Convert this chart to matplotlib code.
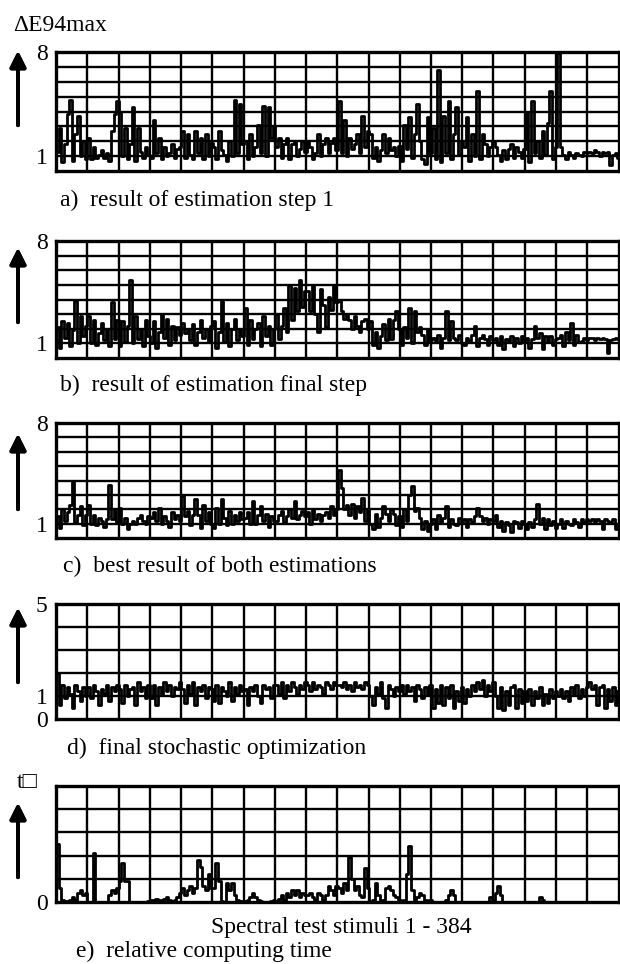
import numpy as np
import matplotlib.pyplot as plt

plt.rcParams['font.family'] = ['Liberation Serif', 'DejaVu Serif']

FIG_W, FIG_H = 620, 964
N_STIMULI = 384
N_CELLS = 18

# values, 12 samples per grid cell (18 cells)
est_step1 = [
    1.3, 2.9, 0.6, 1.8, 3.8, 4.8, 0.7, 2.5, 3.7, 1.0, 2.0, 0.8,
    2.2, 0.8, 1.6, 0.9, 1.1, 1.4, 0.9, 1.2, 0.7, 2.7, 3.8, 4.7,
    4.0, 1.0, 2.9, 0.8, 1.8, 4.3, 0.7, 2.9, 1.3, 0.9, 1.6, 1.1,
    0.9, 3.4, 1.2, 2.2, 0.8, 1.6, 1.0, 1.2, 1.8, 0.9, 1.5, 1.6,
    2.7, 0.9, 2.5, 1.1, 0.8, 2.7, 1.2, 2.2, 0.8, 2.5, 1.0, 1.9,
    1.6, 0.8, 2.7, 1.4, 1.1, 0.7, 2.0, 1.0, 4.8, 1.2, 4.5, 1.8,
    2.0, 0.8, 2.5, 1.0, 1.6, 3.1, 1.2, 4.4, 1.0, 4.3, 2.2, 3.0,
    1.6, 2.2, 0.9, 1.8, 2.2, 0.8, 1.8, 2.0, 1.0, 1.5, 2.0, 1.3,
    2.0, 1.6, 0.8, 1.2, 2.5, 1.0, 1.8, 2.2, 1.2, 1.9, 2.2, 1.4,
    4.7, 1.2, 3.4, 1.0, 2.2, 1.5, 1.8, 2.5, 1.2, 3.7, 1.6, 2.7,
    2.5, 0.9, 1.6, 0.7, 1.4, 2.5, 1.2, 2.2, 1.4, 1.6, 1.0, 1.7,
    0.7, 3.1, 1.5, 3.6, 0.9, 2.5, 4.5, 2.0, 0.8, 0.45, 3.6, 1.2,
    2.9, 0.8, 6.8, 0.6, 3.7, 1.2, 4.7, 0.8, 2.5, 4.3, 1.1, 2.0,
    1.6, 3.6, 0.7, 2.5, 1.0, 5.4, 0.8, 2.5, 1.8, 1.0, 1.6, 2.0,
    1.6, 1.1, 0.7, 1.4, 0.8, 1.5, 1.8, 0.9, 1.6, 1.3, 0.9, 1.5,
    4.0, 0.6, 4.7, 1.2, 2.0, 0.9, 2.7, 1.1, 3.2, 5.4, 0.8, 1.6,
    7.9, 1.6, 1.1, 0.8, 1.3, 1.1, 0.9, 1.2, 1.1, 1.0, 1.3, 1.2,
    1.3, 1.2, 1.4, 1.3, 1.0, 1.3, 1.2, 1.3, 0.4, 1.1, 1.2, 0.9,
]

est_final = [
    2.1, 0.7, 2.5, 1.4, 2.4, 0.8, 1.9, 3.9, 1.0, 2.9, 1.5, 2.2,
    2.9, 1.0, 2.6, 0.9, 1.7, 2.4, 1.2, 2.0, 0.8, 3.8, 1.3, 2.6,
    0.8, 2.5, 1.1, 2.2, 5.3, 1.0, 2.9, 1.3, 2.0, 0.8, 2.6, 1.5,
    1.0, 2.5, 0.7, 1.8, 3.0, 1.4, 2.7, 0.9, 2.2, 1.2, 2.1, 1.6,
    2.4, 1.7, 2.0, 1.2, 2.3, 0.9, 1.8, 2.6, 1.4, 2.0, 1.1, 2.2,
    2.5, 0.7, 1.8, 3.9, 1.1, 2.4, 0.8, 2.0, 2.7, 1.2, 2.0, 1.5,
    3.4, 0.9, 2.6, 1.3, 2.0, 2.4, 0.8, 2.9, 1.5, 2.2, 0.9, 2.0,
    3.0, 1.3, 2.2, 3.4, 1.8, 5.0, 2.6, 4.8, 3.2, 5.3, 3.5, 4.6,
    4.6, 3.2, 4.9, 3.0, 1.8, 4.7, 3.6, 2.1, 4.2, 3.3, 4.9, 3.8,
    3.9, 3.2, 2.7, 3.0, 2.6, 2.0, 2.9, 2.2, 1.8, 2.5, 2.7, 2.0,
    2.5, 0.9, 1.8, 0.7, 1.5, 2.3, 1.2, 2.7, 1.3, 2.6, 3.2, 2.0,
    0.9, 2.1, 1.4, 3.4, 1.0, 3.2, 1.8, 2.1, 1.6, 0.9, 1.9, 1.2,
    1.4, 1.15, 1.6, 0.7, 1.4, 3.2, 1.2, 2.5, 1.4, 1.2, 1.6, 1.0,
    0.9, 1.4, 1.15, 1.6, 2.2, 0.8, 1.4, 1.6, 1.3, 0.9, 1.5, 1.2,
    1.4, 0.9, 1.5, 0.6, 1.3, 1.15, 1.5, 0.8, 1.4, 1.0, 1.5, 1.2,
    1.4, 0.7, 1.3, 2.2, 1.4, 1.7, 0.6, 1.5, 1.15, 1.5, 0.9, 1.3,
    1.4, 1.6, 0.8, 1.8, 1.2, 2.4, 0.9, 1.6, 1.1, 1.15, 1.4, 1.2,
    1.4, 1.4, 1.25, 1.4, 1.3, 1.4, 1.3, 0.35, 1.25, 1.3, 1.4, 1.3,
]

best_both = [
    1.5, 0.7, 2.0, 1.2, 1.8, 2.3, 3.9, 1.1, 1.6, 2.2, 0.9, 1.6,
    2.3, 1.0, 1.6, 0.9, 1.4, 1.2, 0.8, 1.3, 3.7, 1.3, 2.0, 1.1,
    2.1, 1.0, 1.4, 0.6, 1.0, 1.2, 1.0, 1.4, 1.6, 1.2, 1.0, 1.5,
    1.4, 1.8, 1.2, 2.1, 1.0, 1.5, 1.2, 0.8, 1.8, 1.3, 1.6, 1.2,
    2.9, 1.5, 1.9, 0.9, 1.6, 2.7, 1.6, 0.7, 2.3, 1.2, 1.8, 1.0,
    0.7, 2.1, 1.0, 2.7, 1.4, 0.9, 1.9, 1.0, 1.6, 1.2, 1.8, 1.3,
    1.4, 1.8, 1.0, 2.6, 1.0, 1.6, 2.2, 1.2, 1.7, 0.8, 1.5, 1.2,
    1.2, 1.6, 1.9, 1.1, 1.5, 2.0, 1.4, 2.6, 1.3, 1.6, 1.9, 1.5,
    1.8, 1.0, 2.0, 1.3, 1.7, 1.2, 1.6, 1.8, 1.4, 2.2, 1.6, 2.0,
    4.75, 3.5, 2.0, 2.3, 1.6, 2.4, 1.4, 2.2, 1.8, 2.8, 1.2, 2.0,
    1.0, 0.6, 1.7, 0.8, 1.4, 2.2, 1.7, 1.2, 2.0, 1.7, 0.9, 1.5,
    0.8, 2.0, 1.2, 3.0, 3.6, 1.9, 2.1, 1.4, 0.6, 1.2, 0.5, 1.0,
    1.3, 0.6, 1.6, 1.1, 1.4, 2.2, 0.8, 1.3, 1.0, 0.9, 1.4, 1.1,
    1.3, 0.8, 1.3, 1.1, 1.5, 2.1, 1.5, 1.2, 1.4, 1.0, 1.3, 1.2,
    1.6, 0.8, 1.2, 0.5, 1.1, 0.9, 0.4, 1.2, 1.1, 0.7, 1.2, 1.0,
    0.6, 1.1, 0.8, 1.3, 2.4, 1.0, 1.4, 0.6, 1.3, 0.9, 1.2, 0.7,
    1.0, 1.3, 0.7, 1.2, 1.0, 0.9, 1.3, 1.1, 0.8, 1.3, 1.1, 1.3,
    1.2, 1.3, 1.1, 1.3, 1.2, 0.6, 1.3, 1.2, 1.1, 1.3, 0.6, 1.0,
]

stochastic = [
    2.0, 0.6, 1.5, 0.9, 1.4, 1.1, 0.5, 1.5, 1.2, 0.8, 1.4, 1.0,
    1.4, 0.9, 1.5, 1.2, 0.6, 1.3, 1.1, 1.5, 0.8, 1.4, 1.2, 1.5,
    1.3, 0.7, 1.5, 1.0, 1.3, 1.4, 0.6, 1.6, 1.2, 1.4, 0.9, 1.5,
    0.9, 1.5, 0.6, 1.4, 1.1, 1.6, 1.2, 1.5, 1.0, 1.4, 1.3, 1.6,
    1.3, 0.7, 1.5, 1.1, 1.6, 0.6, 1.4, 1.2, 1.5, 0.9, 1.4, 1.3,
    0.8, 1.5, 0.7, 1.4, 1.2, 1.0, 1.6, 0.8, 1.4, 1.1, 1.5, 1.2,
    1.3, 0.6, 1.4, 1.2, 1.5, 1.0, 0.7, 1.5, 1.3, 1.4, 0.9, 1.5,
    1.5, 1.1, 1.6, 0.9, 1.5, 1.2, 1.6, 1.4, 1.1, 1.5, 1.3, 1.6,
    1.5, 1.2, 1.6, 1.3, 1.5, 1.4, 1.1, 1.6, 1.5, 1.3, 1.6, 1.5,
    1.5, 1.4, 1.6, 1.3, 1.5, 1.2, 1.6, 1.4, 1.5, 1.3, 1.6, 1.5,
    1.0, 0.6, 1.4, 1.1, 1.6, 0.9, 0.5, 1.5, 1.3, 1.0, 1.4, 1.2,
    1.5, 1.1, 1.5, 1.2, 1.4, 0.8, 1.5, 1.3, 0.9, 1.4, 1.1, 1.5,
    0.5, 1.3, 0.7, 1.5, 0.6, 1.4, 0.9, 1.5, 0.5, 1.2, 0.8, 1.4,
    0.7, 1.3, 1.0, 1.5, 1.2, 1.6, 1.3, 1.7, 1.0, 1.5, 1.2, 1.6,
    1.0, 0.5, 1.4, 0.4, 1.2, 0.6, 1.4, 1.5, 0.5, 1.3, 0.7, 1.2,
    0.8, 1.3, 0.6, 1.2, 0.9, 1.4, 0.6, 1.1, 0.7, 1.3, 0.9, 1.2,
    1.0, 1.3, 0.9, 1.2, 0.8, 1.4, 1.1, 1.5, 0.9, 1.3, 1.0, 1.4,
    1.6, 1.3, 1.5, 0.6, 1.4, 1.5, 0.5, 1.3, 0.8, 1.4, 0.6, 1.2,
]

comp_time = [
    2.5, 0.6, 0.1, 0.05, 0.0, 0.1, 0.2, 0.1, 0.4, 0.5, 0.3, 0.4,
    0.0, 0.0, 2.1, 0.0, 0.0, 0.0, 0.0, 0.0, 0.3, 0.5, 0.4, 0.6,
    0.9, 1.7, 0.9, 0.9, 0.0, 0.0, 0.0, 0.0, 0.0, 0.0, 0.0, 0.05,
    0.1, 0.05, 0.15, 0.1, 0.05, 0.15, 0.2, 0.1, 0.05, 0.1, 0.2, 0.4,
    0.6, 0.3, 0.5, 0.7, 0.4, 0.6, 1.8, 1.5, 0.7, 0.5, 1.2, 0.6,
    0.6, 1.7, 0.9, 0.05, 0.0, 0.8, 0.5, 0.8, 0.3, 0.1, 0.05, 0.05,
    0.05, 0.1, 0.2, 0.4, 0.2, 0.1, 0.05, 0.0, 0.0, 0.0, 0.05, 0.1,
    0.05, 0.15, 0.3, 0.1, 0.4, 0.2, 0.5, 0.3, 0.5, 0.2, 0.4, 0.3,
    0.3, 0.4, 0.2, 0.1, 0.4, 0.3, 0.1, 0.3, 0.7, 0.5, 0.3, 0.7,
    0.6, 0.4, 0.8, 0.5, 1.95, 1.0, 0.5, 0.7, 0.3, 0.2, 1.45, 0.6,
    0.0, 0.1, 0.8, 0.3, 0.0, 0.1, 0.6, 0.7, 0.5, 0.3, 0.2, 0.1,
    0.05, 0.1, 1.2, 2.4, 0.5, 0.1, 0.2, 0.4, 0.3, 0.1, 0.05, 0.1,
    0.0, 0.0, 0.0, 0.0, 0.0, 0.1, 0.3, 0.5, 0.3, 0.0, 0.0, 0.0,
    0.0, 0.0, 0.0, 0.0, 0.0, 0.0, 0.0, 0.0, 0.0, 0.0, 0.2, 0.1,
    0.4, 0.7, 0.3, 0.0, 0.0, 0.0, 0.0, 0.0, 0.0, 0.0, 0.0, 0.0,
    0.0, 0.0, 0.0, 0.0, 0.0, 0.2, 0.1, 0.0, 0.0, 0.0, 0.0, 0.0,
    0.0, 0.0, 0.0, 0.0, 0.0, 0.0, 0.0, 0.0, 0.0, 0.0, 0.0, 0.0,
    0.0, 0.0, 0.0, 0.0, 0.0, 0.0, 0.0, 0.0, 0.0, 0.0, 0.0, 0.0,
]

captions = ['a)  result of estimation step 1',
            'b)  result of estimation final step',
            'c)  best result of both estimations',
            'd)  final stochastic optimization',
            'e)  relative computing time']
y_max = [8, 8, 8, 5, 5]
y_ticks = [[1, 8], [1, 8], [1, 8], [0, 1, 5], [0]]
series = [est_step1, est_final, best_both, stochastic, comp_time]

# panel boxes in pixels: (top, bottom)
boxes = [(52, 171), (241, 358), (423, 538), (604, 719), (786, 902)]
box_left, box_right = 56, 618.5
caption_base = [206, 391, 572, 754, 957]
caption_x = [60, 60, 63, 67, 76]
arrows = [(128, 48), (325, 245), (512, 431), (685, 605), (880, 800)]

fig = plt.figure(figsize=(FIG_W / 100, FIG_H / 100), dpi=100)

for k in range(5):
    top, bot = boxes[k]
    ax = fig.add_axes([box_left / FIG_W, 1 - bot / FIG_H,
                       (box_right - box_left) / FIG_W, (bot - top) / FIG_H])
    vals = np.array(series[k])
    x = np.linspace(1, N_STIMULI, len(vals))
    ax.plot(x, vals, drawstyle='steps-mid', color='black', linewidth=2.0,
            zorder=3)

    ax.set_xlim(0, N_STIMULI)
    ax.set_ylim(0, y_max[k])
    for gx in np.linspace(0, N_STIMULI, N_CELLS + 1)[1:-1]:
        ax.axvline(gx, color='black', linewidth=1.7, zorder=2)
    for gy in range(1, y_max[k]):
        ax.axhline(gy, color='black', linewidth=1.7, zorder=2)

    ax.set_xticks([])
    ax.set_yticks(y_ticks[k])
    ax.set_yticklabels([str(t) for t in y_ticks[k]], fontsize=17)
    ax.tick_params(axis='y', length=0, pad=6)
    for sp in ax.spines.values():
        sp.set_linewidth(2.4)

    fig.text(caption_x[k] / FIG_W, 1 - caption_base[k] / FIG_H, captions[k],
             fontsize=17, va='baseline', ha='left')

    y0, y1 = arrows[k]
    fig.add_artist(plt.annotate('', xy=(18 / FIG_W, 1 - y1 / FIG_H),
                                xytext=(18 / FIG_W, 1 - y0 / FIG_H),
                                xycoords='figure fraction',
                                arrowprops=dict(arrowstyle='-|>', color='black',
                                                lw=2.8, mutation_scale=24)))

fig.text(13 / FIG_W, 1 - 31 / FIG_H, 'ΔE94max', fontsize=17, va='baseline', ha='left')
fig.text(17 / FIG_W, 1 - 788 / FIG_H, 't\u25a1', fontsize=17, va='baseline', ha='left')
fig.text(341 / FIG_W, 1 - 933 / FIG_H, 'Spectral test stimuli 1 - 384',
         fontsize=17, va='baseline', ha='center')

fig.savefig('out.png', dpi=100)
